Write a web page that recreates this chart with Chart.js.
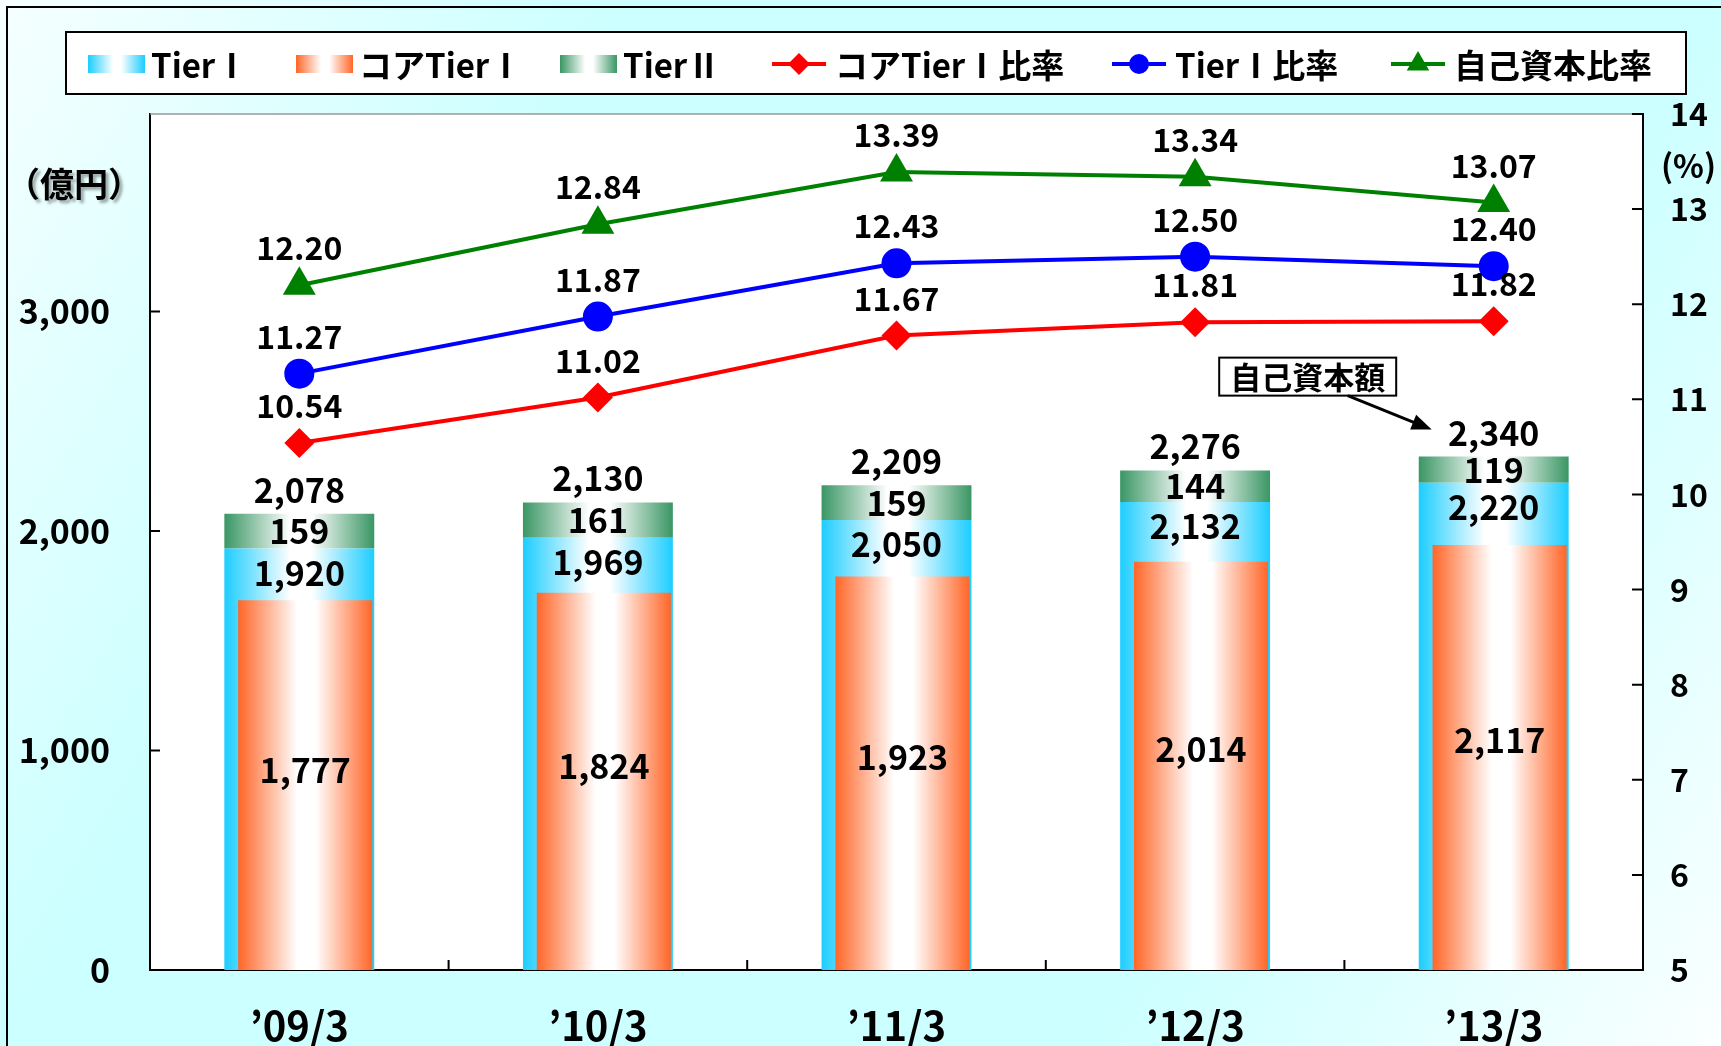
<!DOCTYPE html>
<html>
<head>
<meta charset="utf-8">
<script src="https://cdn.jsdelivr.net/npm/chart.js@4.4.0/dist/chart.umd.min.js"></script>
<style>
  html, body { margin: 0; padding: 0; background: #fff; }
  canvas { display: block; }
</style>
</head>
<body>
<canvas id="myChart" width="1721" height="1046"></canvas>
<script>
var categories = ["’09/3", "’10/3", "’11/3", "’12/3", "’13/3"];
var seriesNames = ["TierⅠ", "コアTierⅠ", "TierⅡ", "コアTierⅠ比率", "TierⅠ比率", "自己資本比率"];
var tier1 = [1920, 1969, 2050, 2132, 2220];
var coreTier1 = [1777, 1824, 1923, 2014, 2117];
var tier2 = [159, 161, 159, 144, 119];
var totalCapital = [2078, 2130, 2209, 2276, 2340];
var coreRatio = [10.54, 11.02, 11.67, 11.81, 11.82];
var tier1Ratio = [11.27, 11.87, 12.43, 12.50, 12.40];
var capitalRatio = [12.20, 12.84, 13.39, 13.34, 13.07];
var leftTicks = [0, 1000, 2000, 3000];
var rightTicks = [5, 6, 7, 8, 9, 10, 11, 12, 13, 14];

var FONT = '"Noto Sans CJK JP", "Noto Sans", sans-serif';
var BLUE = '#1ccdff', ORANGE = '#ff6628', GREEN = '#3a9664';
var TIER_PCT = 0.502, CORE_PCT = 0.449;
var CORE_MIN = -494, CORE_MAX = 4764; // the core bars sit on their own hidden scale

function fmt(v) { return v.toLocaleString('en-US'); }

function hGradient(ctx, x0, x1, color) {
  var g = ctx.createLinearGradient(x0, 0, x1, 0);
  g.addColorStop(0, color);
  g.addColorStop(0.44, '#ffffff');
  g.addColorStop(0.58, '#ffffff');
  g.addColorStop(1, color);
  return g;
}

function coreShift(chart) {
  var cw = chart.chartArea.width / categories.length;
  return (TIER_PCT - CORE_PCT) / 2 * cw - 2;
}

function barFill(color, pct, isCore) {
  return function (c) {
    var chart = c.chart;
    if (c.type !== 'data' || !chart.chartArea) return color;
    var cw = chart.chartArea.width / categories.length * pct;
    var cx = chart.scales.x.getPixelForValue(c.dataIndex) + (isCore ? coreShift(chart) : 0);
    return hGradient(chart.ctx, cx - cw / 2, cx + cw / 2, color);
  };
}

// background, plot area and outer frame
var backdrop = {
  id: 'backdrop',
  beforeDraw: function (chart) {
    var ctx = chart.ctx, W = chart.width, H = chart.height, a = chart.chartArea;
    ctx.save();
    var g = ctx.createLinearGradient(0, 0, W, H);
    g.addColorStop(0, '#f6ffff');
    g.addColorStop(0.27, '#ccffff');
    g.addColorStop(0.73, '#ccffff');
    g.addColorStop(1, '#fbffff');
    ctx.fillStyle = g;
    ctx.fillRect(0, 0, W, H);
    ctx.fillStyle = '#fff';
    ctx.fillRect(a.left, a.top, a.right - a.left, a.bottom - a.top);
    ctx.strokeStyle = '#000';
    ctx.lineWidth = 2;
    ctx.strokeRect(7, 7, W + 20, H + 20);
    ctx.restore();
  }
};

// push the core bars to the right so they sit flush with the Tier I bars
var shiftCore = {
  id: 'shiftCore',
  afterDatasetsUpdate: function (chart) {
    var s = coreShift(chart);
    chart.getDatasetMeta(1).data.forEach(function (el) { el.x += s; });
  }
};

// inward tick marks and the grey top edge
var axisMarks = {
  id: 'axisMarks',
  afterDraw: function (chart) {
    var ctx = chart.ctx, a = chart.chartArea;
    var sx = chart.scales.x, sy = chart.scales.y, s2 = chart.scales.y2;
    ctx.save();
    ctx.strokeStyle = '#999';
    ctx.lineWidth = 1.5;
    ctx.beginPath();
    ctx.moveTo(a.left, a.top);
    ctx.lineTo(a.right, a.top);
    ctx.stroke();
    ctx.strokeStyle = '#000';
    ctx.lineWidth = 2;
    ctx.beginPath();
    sy.ticks.forEach(function (t) {
      var y = sy.getPixelForValue(t.value);
      ctx.moveTo(a.left, y); ctx.lineTo(a.left + 10, y);
    });
    s2.ticks.forEach(function (t) {
      var y = s2.getPixelForValue(t.value);
      ctx.moveTo(a.right, y); ctx.lineTo(a.right - 11, y);
    });
    for (var i = 1; i < categories.length; i++) {
      var x = sx.getPixelForValue(i - 0.5);
      ctx.moveTo(x, a.bottom); ctx.lineTo(x, a.bottom - 10);
    }
    ctx.stroke();
    ctx.restore();
  }
};

var valueLabels = {
  id: 'valueLabels',
  afterDatasetsDraw: function (chart) {
    var ctx = chart.ctx;
    var m1 = chart.getDatasetMeta(0), mc = chart.getDatasetMeta(1), m2 = chart.getDatasetMeta(2);
    ctx.save();
    ctx.fillStyle = '#000';
    ctx.textAlign = 'center';
    ctx.textBaseline = 'middle';
    ctx.font = 'bold 34px ' + FONT;
    categories.forEach(function (c, i) {
      var b1 = m1.data[i], bc = mc.data[i], b2 = m2.data[i];
      ctx.fillText(fmt(totalCapital[i]), b2.x, b2.y - 24);
      ctx.fillText(fmt(tier2[i]), b2.x, (b2.y + b2.base) / 2);
      ctx.fillText(fmt(tier1[i]), b1.x, b1.y + 24);
      ctx.fillText(fmt(coreTier1[i]), bc.x, bc.base + (bc.y - bc.base) * 0.54);
    });
    ctx.font = 'bold 32px ' + FONT;
    [3, 4, 5].forEach(function (d) {
      var meta = chart.getDatasetMeta(d), vals = chart.data.datasets[d].data;
      meta.data.forEach(function (p, i) {
        ctx.fillText(vals[i].toFixed(2), p.x, p.y - 37);
      });
    });

    // unit labels
    var a = chart.chartArea;
    ctx.save();
    ctx.shadowColor = 'rgba(0,0,0,0.35)';
    ctx.shadowOffsetX = 3; ctx.shadowOffsetY = 3; ctx.shadowBlur = 3;
    ctx.font = 'bold 34px ' + FONT;
    ctx.textAlign = 'left';
    ctx.fillText('（億円）', 6, chart.scales.y.getPixelForValue(3580));
    ctx.restore();
    ctx.font = 'bold 32px ' + FONT;
    ctx.textAlign = 'left';
    ctx.fillText('(%)', a.right + 18, chart.scales.y2.getPixelForValue(13.45));

    // 自己資本額 callout
    var last = m2.data[categories.length - 1];
    var bx = last.x - 186, by = last.y - 80;
    ctx.font = 'bold 31px ' + FONT;
    var tw = ctx.measureText('自己資本額').width + 22;
    ctx.fillStyle = '#fff';
    ctx.fillRect(bx - tw / 2, by - 19, tw, 38);
    ctx.strokeStyle = '#000';
    ctx.lineWidth = 2;
    ctx.strokeRect(bx - tw / 2, by - 19, tw, 38);
    ctx.fillStyle = '#000';
    ctx.textAlign = 'center';
    ctx.fillText('自己資本額', bx, by + 1);
    var x0 = bx + 40, y0 = by + 19, x1 = last.x - 62, y1 = last.y - 27;
    var ang = Math.atan2(y1 - y0, x1 - x0);
    ctx.lineWidth = 3;
    ctx.beginPath();
    ctx.moveTo(x0, y0);
    ctx.lineTo(x1 - 14 * Math.cos(ang), y1 - 14 * Math.sin(ang));
    ctx.stroke();
    ctx.beginPath();
    ctx.moveTo(x1, y1);
    ctx.lineTo(x1 - 20 * Math.cos(ang) + 8 * Math.sin(ang), y1 - 20 * Math.sin(ang) - 8 * Math.cos(ang));
    ctx.lineTo(x1 - 20 * Math.cos(ang) - 8 * Math.sin(ang), y1 - 20 * Math.sin(ang) + 8 * Math.cos(ang));
    ctx.closePath();
    ctx.fill();
    ctx.restore();
  }
};

// legend in a framed box across the top
var legendBox = {
  id: 'legendBox',
  afterDraw: function (chart) {
    var ctx = chart.ctx;
    var slots = [88, 296, 560, 772, 1112, 1391];
    var cy = 64;
    ctx.save();
    ctx.fillStyle = '#fff';
    ctx.fillRect(66, 32, 1620, 62);
    ctx.strokeStyle = '#000';
    ctx.lineWidth = 2;
    ctx.strokeRect(66, 32, 1620, 62);
    chart.data.datasets.forEach(function (ds, i) {
      var x = slots[i];
      if (ds.type === 'line') {
        ctx.strokeStyle = ds.borderColor;
        ctx.lineWidth = 4;
        ctx.beginPath();
        ctx.moveTo(x, cy); ctx.lineTo(x + 54, cy);
        ctx.stroke();
        ctx.fillStyle = ds.borderColor;
        Chart.helpers.drawPoint(ctx, { pointStyle: ds.pointStyle, radius: ds.legendRadius, rotation: 0, borderWidth: 0 }, x + 27, cy);
      } else {
        ctx.fillStyle = hGradient(ctx, x, x + 57, ds.baseColor);
        ctx.fillRect(x, cy - 9, 57, 18);
      }
      ctx.fillStyle = '#000';
      ctx.font = 'bold 33px ' + FONT;
      ctx.textAlign = 'left';
      ctx.textBaseline = 'middle';
      ctx.fillText(ds.label, x + 63, cy + 1);
    });
    ctx.restore();
  }
};

window.onload = function () {
  var ctx = document.getElementById('myChart').getContext('2d');
  Chart.defaults.font.family = FONT;
  Chart.defaults.color = '#000';
  new Chart(ctx, {
    type: 'bar',
    data: {
      labels: categories,
      datasets: [
        { label: seriesNames[0], data: tier1, yAxisID: 'y', stack: 'cap', order: 2, grouped: false,
          baseColor: BLUE, backgroundColor: barFill(BLUE, TIER_PCT, false),
          barPercentage: TIER_PCT, categoryPercentage: 1 },
        { label: seriesNames[1], data: coreTier1, yAxisID: 'yc', stack: 'core', order: 1, grouped: false,
          base: CORE_MIN,
          baseColor: ORANGE, backgroundColor: barFill(ORANGE, CORE_PCT, true),
          barPercentage: CORE_PCT, categoryPercentage: 1 },
        { label: seriesNames[2], data: tier2, yAxisID: 'y', stack: 'cap', order: 3, grouped: false,
          baseColor: GREEN, backgroundColor: barFill(GREEN, TIER_PCT, false),
          barPercentage: TIER_PCT, categoryPercentage: 1 },
        { type: 'line', label: seriesNames[3], data: coreRatio, yAxisID: 'y2', order: 0,
          borderColor: '#ff0000', backgroundColor: '#ff0000', borderWidth: 4,
          pointStyle: 'rectRot', pointRadius: 15, pointBorderWidth: 0, legendRadius: 11 },
        { type: 'line', label: seriesNames[4], data: tier1Ratio, yAxisID: 'y2', order: 0,
          borderColor: '#0000ff', backgroundColor: '#0000ff', borderWidth: 4,
          pointStyle: 'circle', pointRadius: 15, pointBorderWidth: 0, legendRadius: 10 },
        { type: 'line', label: seriesNames[5], data: capitalRatio, yAxisID: 'y2', order: 0,
          borderColor: '#008000', backgroundColor: '#008000', borderWidth: 4,
          pointStyle: 'triangle', pointRadius: 19, pointBorderWidth: 0, legendRadius: 13 }
      ]
    },
    options: {
      responsive: false,
      animation: false,
      layout: { padding: { top: 114, left: 0, right: 0, bottom: 0 } },
      plugins: { legend: { display: false }, tooltip: { enabled: false } },
      scales: {
        x: {
          stacked: true,
          grid: { display: false, drawTicks: false },
          border: { display: true, color: '#000', width: 2 },
          ticks: { font: { size: 40, weight: 'bold' }, padding: 32 },
          afterFit: function (s) { s.height = 76; }
        },
        y: {
          position: 'left', stacked: true, min: 0, max: 3900,
          grid: { display: false, drawTicks: false },
          border: { display: true, color: '#000', width: 2 },
          afterBuildTicks: function (s) { s.ticks = leftTicks.map(function (v) { return { value: v }; }); },
          ticks: { font: { size: 34, weight: 'bold' }, padding: 40, callback: function (v) { return fmt(v); } },
          afterFit: function (s) { s.width = 150; }
        },
        yc: { display: false, min: CORE_MIN, max: CORE_MAX },
        y2: {
          position: 'right', min: 5, max: 14,
          grid: { display: false, drawTicks: false },
          border: { display: true, color: '#000', width: 2 },
          afterBuildTicks: function (s) { s.ticks = rightTicks.map(function (v) { return { value: v }; }); },
          ticks: { font: { size: 32, weight: 'bold' }, padding: 27 },
          afterFit: function (s) { s.width = 78; }
        }
      }
    },
    plugins: [backdrop, shiftCore, axisMarks, valueLabels, legendBox]
  });
};
</script>
</body>
</html>
